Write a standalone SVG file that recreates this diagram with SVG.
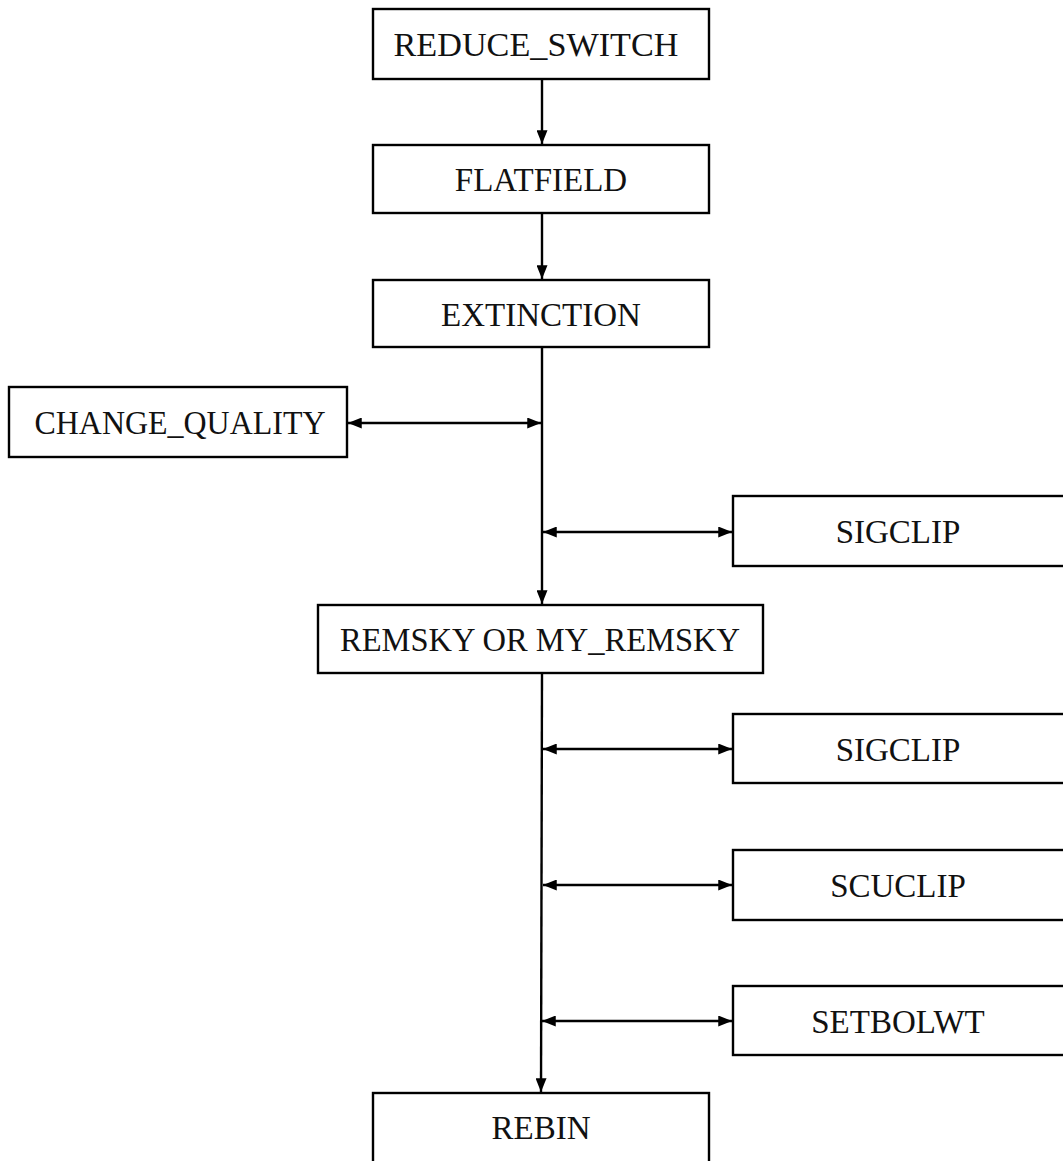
<svg xmlns="http://www.w3.org/2000/svg" width="1063" height="1161" viewBox="0 0 1063 1161">
<style>
.box{fill:#fff;stroke:#000;stroke-width:2.4}
.lbl{font-family:"Liberation Serif","Times New Roman",serif;font-size:33px;fill:#111;text-anchor:middle}
.ln{stroke:#000;stroke-width:2.4;fill:none}
</style>
<defs>
<marker id="ah" viewBox="0 0 10 8" refX="10" refY="4" markerWidth="15" markerHeight="11" markerUnits="userSpaceOnUse" orient="auto-start-reverse">
<path d="M0,0 L10,4 L0,8 Z" fill="#000"/>
</marker>
</defs>
<rect width="1063" height="1161" fill="#fff"/>
<g id="connectors">
<line class="ln" x1="542" y1="79" x2="542" y2="144" marker-end="url(#ah)"/>
<line class="ln" x1="542" y1="213" x2="542" y2="279" marker-end="url(#ah)"/>
<line class="ln" x1="542" y1="347" x2="542" y2="604" marker-end="url(#ah)"/>
<line class="ln" x1="542" y1="673" x2="541" y2="1092" marker-end="url(#ah)"/>
<line class="ln" x1="348" y1="423" x2="541" y2="423" marker-start="url(#ah)" marker-end="url(#ah)"/>
<line class="ln" x1="543" y1="532" x2="732" y2="532" marker-start="url(#ah)" marker-end="url(#ah)"/>
<line class="ln" x1="543" y1="749" x2="732" y2="749" marker-start="url(#ah)" marker-end="url(#ah)"/>
<line class="ln" x1="543" y1="885" x2="732" y2="885" marker-start="url(#ah)" marker-end="url(#ah)"/>
<line class="ln" x1="542" y1="1021" x2="732" y2="1021" marker-start="url(#ah)" marker-end="url(#ah)"/>
</g>
<g id="reduce_switch"><rect class="box" x="373" y="9" width="336" height="70"/><text class="lbl" x="536" y="56" textLength="285" lengthAdjust="spacingAndGlyphs">REDUCE_SWITCH</text></g>
<g id="flatfield"><rect class="box" x="373" y="145" width="336" height="68"/><text class="lbl" x="541" y="191">FLATFIELD</text></g>
<g id="extinction"><rect class="box" x="373" y="280" width="336" height="67"/><text class="lbl" x="541" y="326">EXTINCTION</text></g>
<g id="change_quality"><rect class="box" x="9" y="387" width="338" height="70"/><text class="lbl" x="180" y="434" textLength="291" lengthAdjust="spacingAndGlyphs">CHANGE_QUALITY</text></g>
<g id="sigclip1"><rect class="box" x="733" y="496" width="340" height="70"/><text class="lbl" x="898" y="543">SIGCLIP</text></g>
<g id="remsky"><rect class="box" x="318" y="605" width="445" height="68"/><text class="lbl" x="540" y="651" textLength="400" lengthAdjust="spacingAndGlyphs">REMSKY OR MY_REMSKY</text></g>
<g id="sigclip2"><rect class="box" x="733" y="714" width="340" height="69"/><text class="lbl" x="898" y="761">SIGCLIP</text></g>
<g id="scuclip"><rect class="box" x="733" y="850" width="340" height="70"/><text class="lbl" x="898" y="897">SCUCLIP</text></g>
<g id="setbolwt"><rect class="box" x="733" y="986" width="340" height="69"/><text class="lbl" x="898" y="1033">SETBOLWT</text></g>
<g id="rebin"><rect class="box" x="373" y="1093" width="336" height="80"/><text class="lbl" x="541" y="1139">REBIN</text></g>
</svg>
